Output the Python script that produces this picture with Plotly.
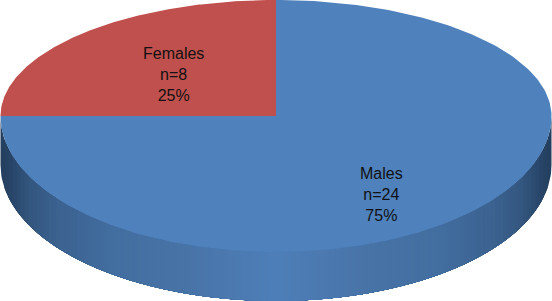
import numpy as np
import plotly.graph_objects as go

categories = ["Males", "Females"]
counts = [24, 8]
slice_colors = ["#4F81BD", "#C0504D"]
label_pos = [(381, 194), (173, 74)]

W, H = 552, 301
CX, CY = 276, 116
RX = 275.5
RY_BACK, RY_FRONT = 116, 136
DEPTH = 49

# wall shading: (distance from the centre as a fraction of RX, colour)
shade_t = [0.0, 0.33, 0.6, 0.8, 0.9, 0.96, 1.0]
shade_rgb = [(79, 127, 185), (72, 116, 168), (66, 110, 160), (60, 98, 144),
             (51, 87, 127), (42, 72, 108), (36, 63, 95)]


def rim(theta, dy=0.0):
    """theta measured clockwise from 12 o'clock"""
    x = CX + RX * np.sin(theta)
    c = np.cos(theta)
    y = CY + dy - np.where(c > 0, RY_BACK, RY_FRONT) * c
    return x, y


fig = go.Figure()

# side wall: nested strips from the whole width inwards
for t in np.linspace(1, 0, 70):
    half = np.arcsin(t)
    th = np.linspace(np.pi - half, np.pi + half, 160)
    x_top, y_top = rim(th)
    x_bot, y_bot = rim(th, DEPTH)
    rgb = [np.interp(t, shade_t, [c[i] for c in shade_rgb]) for i in range(3)]
    col = "rgb(%d,%d,%d)" % tuple(rgb)
    fig.add_trace(go.Scatter(
        x=np.r_[x_top, x_bot[::-1]], y=np.r_[y_top, y_bot[::-1]],
        mode="lines", fill="toself", fillcolor=col,
        line=dict(width=0), hoverinfo="skip", showlegend=False))

# top face, angles come from the counts
total = sum(counts)
start = 0.0
for name, n, col in zip(categories, counts, slice_colors):
    span = 2 * np.pi * n / total
    th = np.linspace(start, start + span, 240)
    x, y = rim(th)
    fig.add_trace(go.Scatter(
        x=np.r_[CX, x, CX], y=np.r_[CY, y, CY],
        mode="lines", fill="toself", fillcolor=col,
        line=dict(width=0), name=name, showlegend=False))
    start += span

for name, n, (lx, ly) in zip(categories, counts, label_pos):
    fig.add_annotation(
        x=lx, y=ly, xref="x", yref="y", showarrow=False, align="center",
        text=f"{name}<br>n={n}<br>{round(100 * n / total)}%",
        font=dict(family="Liberation Sans", size=16, color="#111111"))

fig.update_layout(
    width=W, height=H, autosize=False,
    margin=dict(l=0, r=0, t=0, b=0),
    paper_bgcolor="white", plot_bgcolor="white", showlegend=False,
    xaxis=dict(range=[0, W], visible=False, fixedrange=True),
    yaxis=dict(range=[H, 0], visible=False, fixedrange=True),
)
fig.write_html("out.html", config={"displayModeBar": False},
               post_script="document.body.style.margin='0';document.documentElement.style.overflow='hidden';")
